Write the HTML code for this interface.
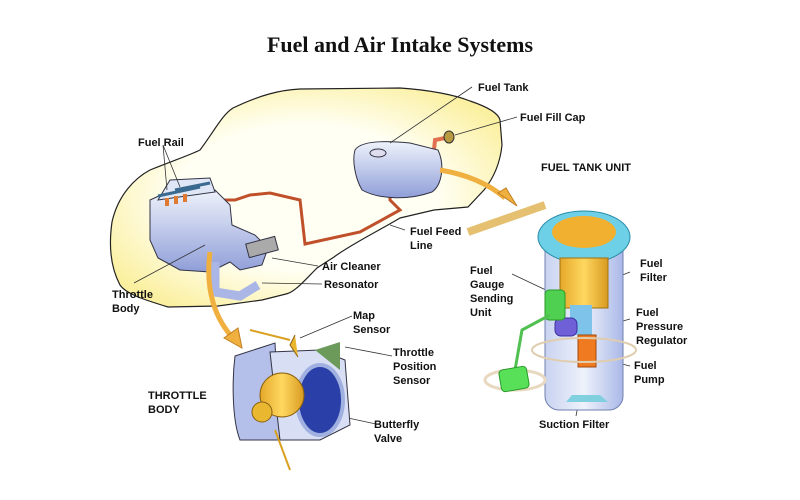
<!DOCTYPE html>
<html><head><meta charset="utf-8"><style>
html,body{margin:0;padding:0;background:#fff;width:800px;height:500px;overflow:hidden}
svg{display:block}
.t{font-family:"Liberation Sans",Arial,sans-serif;font-weight:bold;font-size:11px;fill:#111}
</style></head><body>
<svg width="800" height="500" viewBox="0 0 800 500" xmlns="http://www.w3.org/2000/svg">
<defs>
<radialGradient id="car" cx="0.5" cy="0.5" r="0.6"><stop offset="0.55" stop-color="#fffff4"/><stop offset="1" stop-color="#fbf0a0"/></radialGradient>
<linearGradient id="blu" x1="0" y1="0" x2="0" y2="1"><stop offset="0" stop-color="#eef2fb"/><stop offset="1" stop-color="#8f9ed8"/></linearGradient>
<linearGradient id="cyl" x1="0" y1="0" x2="1" y2="0"><stop offset="0" stop-color="#c9d3f0"/><stop offset="0.5" stop-color="#eef2fb"/><stop offset="1" stop-color="#aab8e8"/></linearGradient>
<linearGradient id="gold" x1="0" y1="0" x2="1" y2="0"><stop offset="0" stop-color="#e4a82a"/><stop offset="0.5" stop-color="#ffd860"/><stop offset="1" stop-color="#d89a20"/></linearGradient>
</defs>
<text x="400" y="52" text-anchor="middle" style="font-family:'Liberation Serif',serif;font-weight:bold;font-size:22px;fill:#111">Fuel and Air Intake Systems</text>
<!-- car body -->
<path d="M112,222 C118,195 135,178 150,170 C175,160 190,155 200,150 C215,130 222,115 233,108 C260,95 280,90 300,89 L400,88 C430,90 455,95 470,101 C485,106 498,112 500,120 L502,145 C500,165 492,180 484,190 L468,207 L434,210 L400,218 C380,230 350,245 334,257 L317,268 C305,280 295,292 286,294 L262,300 L218,306 L168,307 C145,300 126,294 120,285 C112,270 108,250 112,222 Z" fill="url(#car)" stroke="#222" stroke-width="1.2"/>
<!-- fuel line -->
<path d="M215,200 L235,200 L250,195 L270,193 L300,200 L305,244 L360,232 L400,210 L390,200 L390,160" fill="none" stroke="#c0502a" stroke-width="3"/>
<path d="M432,170 L435,140 L445,138" fill="none" stroke="#e07050" stroke-width="4"/>
<!-- fuel tank -->
<path d="M355,150 C360,142 380,140 410,143 L438,150 C445,165 442,185 432,192 C410,200 380,200 362,190 C355,178 352,160 355,150 Z" fill="url(#blu)" stroke="#334" stroke-width="1"/>
<ellipse cx="378" cy="153" rx="8" ry="4" fill="#dde" stroke="#334"/>
<ellipse cx="449" cy="137" rx="5" ry="6" fill="#b89a40" stroke="#333"/>
<!-- engine -->
<path d="M150,200 L172,190 L215,190 L230,205 L232,225 L255,235 L268,248 L262,265 L240,270 L230,262 L210,272 L180,270 L158,258 L150,240 Z" fill="url(#blu)" stroke="#334"/>
<path d="M158,200 L170,180 L210,178 L215,192 Z" fill="#dfe6f6" stroke="#334"/>
<g stroke="#3a6a90" stroke-width="3"><line x1="158" y1="196" x2="200" y2="187"/><line x1="175" y1="190" x2="210" y2="183"/></g>
<g fill="#e07a30"><rect x="165" y="198" width="4" height="8"/><rect x="174" y="196" width="4" height="8"/><rect x="183" y="194" width="4" height="8"/></g>
<rect x="247" y="240" width="30" height="14" fill="#aaa" stroke="#334" transform="rotate(-15 262 247)"/>
<path d="M215,262 L215,292 L240,296 L258,285" fill="none" stroke="#a9b6e6" stroke-width="9"/>
<!-- leader lines -->
<g stroke="#333" stroke-width="0.8" fill="none">
<path d="M163,145 L167,190 M163,145 L180,187"/>
<path d="M472,87 L390,143"/>
<path d="M517,117 L455,135"/>
<path d="M405,230 L390,225"/>
<path d="M318,266 L272,258"/>
<path d="M322,284 L262,283"/>
<path d="M134,283 L205,245"/>
<path d="M352,316 L300,338"/>
<path d="M392,356 L345,347"/>
<path d="M376,424 L320,412"/>
<path d="M512,274 L548,291"/>
<path d="M630,272 L610,280"/>
<path d="M630,319 L595,329"/>
<path d="M630,366 L598,358"/>
<path d="M576,416 L580,395"/>
</g>
<!-- orange arrows -->
<path d="M440,170 C470,175 490,185 505,198" fill="none" stroke="#f0b040" stroke-width="5"/>
<path d="M498,193 L517,206 L506,188 Z" fill="#f0b040" stroke="#c08020"/>
<path d="M210,252 C205,290 215,320 235,340" fill="none" stroke="#f0b040" stroke-width="5"/>
<path d="M224,338 L242,348 L238,328 Z" fill="#f0b040" stroke="#c08020"/>
<!-- throttle body -->
<path d="M235,356 L275,343 L280,440 L240,440 C232,420 232,380 235,356 Z" fill="#b4c0ea" stroke="#334"/>
<path d="M270,352 L320,350 L345,360 L350,425 L320,440 L280,440 Z" fill="#d8def4" stroke="#334"/>
<ellipse cx="320" cy="400" rx="23" ry="35" fill="#2b3fa8" stroke="#a0b0e0" stroke-width="4"/>
<circle cx="282" cy="395" r="22" fill="url(#gold)" stroke="#8a6010"/>
<circle cx="262" cy="412" r="10" fill="#e9b830" stroke="#8a6010"/>
<path d="M295,335 L290,345 L298,357" fill="#e9b830" stroke="#8a6010"/>
<path d="M315,350 L340,342 L340,370" fill="#6b9a5a"/>
<path d="M250,330 L290,340" stroke="#d9a020" fill="none" stroke-width="2"/>
<path d="M275,430 L290,470" stroke="#d9a020" fill="none" stroke-width="2"/>
<!-- fuel tank unit -->
<path d="M468,232 L545,205" stroke="#e5c070" stroke-width="8"/>
<rect x="545" y="225" width="78" height="185" rx="14" fill="url(#cyl)" stroke="#7080b0"/>
<ellipse cx="584" cy="237" rx="46" ry="26" fill="#6ed0e6" stroke="#2a8aa8"/>
<ellipse cx="584" cy="232" rx="32" ry="16" fill="#f2b030"/>
<rect x="560" y="258" width="48" height="50" fill="url(#gold)" stroke="#a07010"/>
<rect x="570" y="305" width="22" height="30" fill="#7dc3ea"/>
<rect x="555" y="318" width="22" height="18" rx="6" fill="#7060d8" stroke="#3a30a0"/>
<rect x="578" y="335" width="18" height="32" fill="#f07a20" stroke="#a04a10"/>
<path d="M572,395 L600,395 L608,402 L566,402 Z" fill="#80d0e0"/>
<rect x="545" y="290" width="20" height="30" rx="4" fill="#50d050" stroke="#2a9a2a"/>
<path d="M550,315 L522,330 L515,370" stroke="#50c050" stroke-width="3" fill="none"/>
<ellipse cx="515" cy="380" rx="30" ry="10" fill="none" stroke="#e8d8c0" stroke-width="3"/>
<rect x="500" y="368" width="28" height="22" rx="4" fill="#58e058" stroke="#2a9a2a" transform="rotate(-10 514 379)"/>
<ellipse cx="584" cy="350" rx="52" ry="12" fill="none" stroke="#e0cdb0" stroke-width="2"/>
<!-- labels -->
<text class="t" x="478" y="91">Fuel Tank</text>
<text class="t" x="520" y="121">Fuel Fill Cap</text>
<text class="t" x="541" y="171">FUEL TANK UNIT</text>
<text class="t" x="138" y="146">Fuel Rail</text>
<text class="t" x="410" y="235">Fuel Feed</text>
<text class="t" x="410" y="249">Line</text>
<text class="t" x="322" y="270">Air Cleaner</text>
<text class="t" x="324" y="288">Resonator</text>
<text class="t" x="112" y="298">Throttle</text>
<text class="t" x="112" y="312">Body</text>
<text class="t" x="353" y="319">Map</text>
<text class="t" x="353" y="333">Sensor</text>
<text class="t" x="393" y="356">Throttle</text>
<text class="t" x="393" y="370">Position</text>
<text class="t" x="393" y="384">Sensor</text>
<text class="t" x="148" y="399">THROTTLE</text>
<text class="t" x="148" y="413">BODY</text>
<text class="t" x="374" y="428">Butterfly</text>
<text class="t" x="374" y="442">Valve</text>
<text class="t" x="470" y="274">Fuel</text>
<text class="t" x="470" y="288">Gauge</text>
<text class="t" x="470" y="302">Sending</text>
<text class="t" x="470" y="316">Unit</text>
<text class="t" x="640" y="267">Fuel</text>
<text class="t" x="640" y="281">Filter</text>
<text class="t" x="636" y="316">Fuel</text>
<text class="t" x="636" y="330">Pressure</text>
<text class="t" x="636" y="344">Regulator</text>
<text class="t" x="634" y="369">Fuel</text>
<text class="t" x="634" y="383">Pump</text>
<text class="t" x="539" y="428">Suction Filter</text>
</svg>
</body></html>
